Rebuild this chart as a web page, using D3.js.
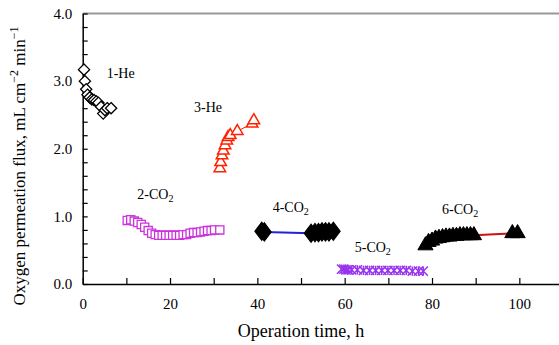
<!DOCTYPE html>
<html>
<head>
<meta charset="utf-8">
<script src="https://cdn.jsdelivr.net/npm/d3@7"></script>
<style>
  body { margin: 0; background: #fff; }
</style>
</head>
<body>
<div id="chart"></div>
<script>
// tick labels
const xTicks = [0, 20, 40, 60, 80, 100];
const yTicks = [0, 1, 2, 3, 4];

// series values: [time h, flux]
const he1 = [[0.3,3.17],[0.5,3.0],[0.8,2.88],[1.1,2.80],[1.6,2.76],[2.1,2.73],[2.6,2.72],[3.1,2.70],[3.6,2.68],[4.2,2.62],[4.7,2.52],[5.1,2.57],[5.6,2.60],[6.5,2.60]];
const co2_2 = [[10.2,0.94],[11.0,0.95],[11.8,0.93],[12.6,0.91],[13.4,0.88],[14.2,0.84],[15.0,0.79],[15.8,0.75],[16.6,0.73],[17.4,0.72],[18.2,0.72],[19.0,0.72],[19.8,0.72],[20.6,0.72],[21.4,0.72],[22.2,0.72],[23.0,0.73],[23.8,0.73],[24.6,0.75],[25.4,0.76],[26.2,0.76],[27.0,0.77],[27.8,0.78],[28.6,0.79],[29.4,0.79],[30.2,0.80],[31.4,0.80]];
const he3 = [[31.4,1.71],[31.6,1.80],[31.9,1.90],[32.2,1.97],[32.6,2.05],[33.0,2.12],[33.3,2.17],[33.8,2.20],[35.4,2.26],[38.8,2.37],[39.2,2.42]];
const co2_4 = [[41.0,0.78],[41.6,0.77],[52.3,0.75],[53.2,0.76],[54.0,0.76],[54.8,0.77],[55.6,0.77],[56.4,0.77],[57.4,0.78]];
const co2_5 = [[59.3,0.22],[59.8,0.22],[60.3,0.21],[60.8,0.21],[61.6,0.21],[62.9,0.21],[64.3,0.20],[65.7,0.20],[67.1,0.20],[68.5,0.20],[69.9,0.20],[71.3,0.20],[72.7,0.20],[74.1,0.20],[75.5,0.19],[76.9,0.19],[78.0,0.19]];
const co2_6 = [[78.5,0.57],[79.2,0.62],[80.0,0.64],[80.8,0.67],[81.6,0.68],[82.4,0.69],[83.2,0.70],[84.0,0.70],[84.8,0.71],[85.6,0.71],[86.4,0.72],[87.2,0.72],[88.0,0.72],[88.8,0.72],[89.6,0.72],[98.4,0.75],[99.6,0.75]];

const labels = [
  { t: "1-He", x: 5.5, y: 3.05 },
  { t: "3-He", x: 25.5, y: 2.55 },
  { t: "2-CO", sub: "2", x: 12.5, y: 1.25 },
  { t: "4-CO", sub: "2", x: 43.5, y: 1.07 },
  { t: "5-CO", sub: "2", x: 62.3, y: 0.47 },
  { t: "6-CO", sub: "2", x: 82.3, y: 1.03 }
];

const FONT = "'Liberation Serif', 'Times New Roman', serif";
const W = 559, H = 345;
const m = { left: 82.7, top: 13.5, right: -4, bottom: 61 };

const x = d3.scaleLinear().domain([0, 110]).range([m.left, W - m.right]);
const y = d3.scaleLinear().domain([0, 4]).range([H - m.bottom, m.top]);

const svg = d3.select("#chart").append("svg").attr("width", W).attr("height", H)
  .style("font-family", FONT);

// top frame line
svg.append("line")
  .attr("x1", m.left).attr("x2", W)
  .attr("y1", y(4)).attr("y2", y(4))
  .attr("stroke", "#999").attr("stroke-width", 2);

// axes: ticks point inward
const xAxis = svg.append("g")
  .attr("transform", `translate(0,${y(0)})`)
  .call(d3.axisBottom(x).tickValues(d3.range(0, 111, 10)).tickSizeInner(-6).tickSizeOuter(0)
    .tickFormat(d => xTicks.includes(d) ? d : ""));
xAxis.selectAll("text").attr("dy", "1.45em");

const yAxis = svg.append("g")
  .attr("transform", `translate(${m.left},0)`)
  .call(d3.axisLeft(y).tickValues(d3.range(0, 4.01, 0.2)).tickSizeInner(-5).tickSizeOuter(0)
    .tickFormat(d => yTicks.some(v => Math.abs(v - d) < 1e-6) ? d3.format(".1f")(d) : ""));
yAxis.selectAll("text").attr("dx", "-0.5em");

[xAxis, yAxis].forEach(g => {
  g.attr("font-family", null).attr("font-size", null);
  g.select(".domain").attr("stroke", "#000").attr("stroke-width", 1.5);
  g.selectAll(".tick line").attr("stroke", "#000").attr("stroke-width", 1.2);
  g.selectAll("text").style("font-size", "15px").style("font-family", FONT).attr("fill", "#000");
});

const line = d3.line().x(d => x(d[0])).y(d => y(d[1]));
const plot = svg.append("g");

// connecting lines
plot.append("path").datum(he3).attr("d", line).attr("fill", "none").attr("stroke", "#ff2200").attr("stroke-width", 1);
plot.append("path").datum(co2_4).attr("d", line).attr("fill", "none").attr("stroke", "#2222dd").attr("stroke-width", 2);
plot.append("path").datum(co2_6).attr("d", line).attr("fill", "none").attr("stroke", "#cc1111").attr("stroke-width", 2);

function markers(data, type, size, fill, stroke, sw, sx = 1) {
  plot.append("g").selectAll("path").data(data).join("path")
    .attr("transform", d => `translate(${x(d[0])},${y(d[1])}) scale(${sx},1)`)
    .attr("d", d3.symbol().type(type).size(size))
    .attr("fill", fill).attr("stroke", stroke).attr("stroke-width", sw);
}

// asterisk marker: x plus vertical bar
const asterisk = {
  draw(ctx, size) {
    const r = Math.sqrt(size) / 2;
    ctx.moveTo(-r, -r); ctx.lineTo(r, r);
    ctx.moveTo(-r, r); ctx.lineTo(r, -r);
    ctx.moveTo(0, -r); ctx.lineTo(0, r);
  }
};

markers(he1, d3.symbolDiamond2, 80, "#fff", "#000", 1.3);
markers(co2_2, d3.symbolSquare2, 85, "#fff", "#cc33dd", 1.3);
markers(he3, d3.symbolTriangle2, 95, "#fff", "#ff2200", 1.5);
markers(co2_4, d3.symbolDiamond, 95, "#000", "#000", 1, 1.3);
markers(co2_5, asterisk, 85, "none", "#9933ee", 1.5);
markers(co2_6, d3.symbolTriangle, 100, "#000", "#000", 1);

// series labels
labels.forEach(l => {
  const t = svg.append("text").attr("x", x(l.x)).attr("y", y(l.y))
    .style("font-size", "14px").attr("fill", "#000").text(l.t);
  if (l.sub) t.append("tspan").style("font-size", "10px").attr("dy", 3).text(l.sub);
});

// axis titles
svg.append("text").attr("x", x(50)).attr("y", 337).attr("text-anchor", "middle")
  .style("font-size", "18px").text("Operation time, h");

const yt = svg.append("text").attr("transform", `translate(25,166) rotate(-90)`)
  .attr("text-anchor", "middle").style("font-size", "17px");
yt.append("tspan").text("Oxygen permeation flux, mL cm");
yt.append("tspan").style("font-size", "12px").attr("dy", -7).text("−2");
yt.append("tspan").attr("dy", 7).text(" min");
yt.append("tspan").style("font-size", "12px").attr("dy", -7).text("−1");
</script>
</body>
</html>
